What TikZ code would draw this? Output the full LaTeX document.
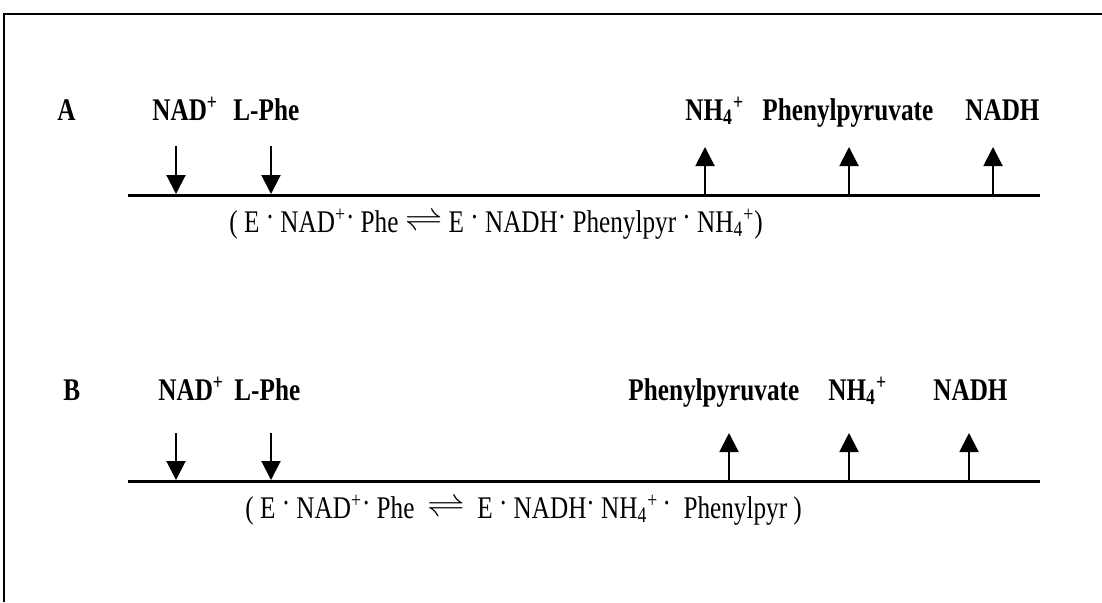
\documentclass[tikz,border=0pt]{standalone}
\usepackage{fontspec}
\setmainfont{Liberation Serif}
\usetikzlibrary{arrows.meta}
\newcommand{\rd}{\raisebox{0.15em}{\textperiodcentered}}
\newcommand{\eqharp}{\raisebox{0.05em}{\scalebox{1.6}[1.1]{$\rightleftharpoons$}}}
\begin{document}
\begin{tikzpicture}[x=0.5pt,y=-0.5pt,
  lab/.style={font=\fontsize{12.6}{15}\selectfont\bfseries, inner sep=0pt, anchor=base west, yscale=1.25},
  eqn/.style={font=\fontsize{12.6}{15}\selectfont, inner sep=0pt, anchor=base west, yscale=1.25},
  arr/.style={line width=1pt, -{Triangle[width=9.5pt,length=9.5pt]}},
  axisline/.style={line width=1.5pt},
  frameline/.style={line width=1pt}]
\useasboundingbox (0,0) rectangle (1102,602);
% frame
\coordinate (tl) at (4,14);
\coordinate (tr) at (1102,14);
\coordinate (bl) at (4,602);
\draw[frameline] (tr) -- (tl) -- (bl);

% ---------- A ----------
\coordinate (A0) at (128,195);
\coordinate (A1) at (1040,195);
\draw[axisline] (A0) -- (A1);
\node[lab] (lA) at (57,120) {A};
\node[lab] (aNAD) at (152,120) {NAD\textsuperscript{+}};
\node[lab] (aPhe) at (233,120) {L-Phe};
\node[lab] (aNH) at (685,120) {NH\textsubscript{4}\textsuperscript{+}};
\node[lab] (aPP) at (762,120) {Phenylpyruvate};
\node[lab] (aNADH) at (965,120) {NADH};
\coordinate (ad1s) at (176,146); \coordinate (ad1e) at (176,194);
\coordinate (ad2s) at (271,146); \coordinate (ad2e) at (271,194);
\coordinate (au1s) at (705,195); \coordinate (au1e) at (705,147);
\coordinate (au2s) at (849,195); \coordinate (au2e) at (849,147);
\coordinate (au3s) at (993,195); \coordinate (au3e) at (993,147);
\draw[arr] (ad1s) -- (ad1e);
\draw[arr] (ad2s) -- (ad2e);
\draw[arr] (au1s) -- (au1e);
\draw[arr] (au2s) -- (au2e);
\draw[arr] (au3s) -- (au3e);
\node[eqn] (eqA) at (229,232) {( E \rd\ NAD\textsuperscript{+}\rd\ Phe \eqharp\ E \rd\ NADH\rd\ Phenylpyr \rd\ NH\textsubscript{4}\textsuperscript{+})};

% ---------- B ----------
\coordinate (B0) at (128,481);
\coordinate (B1) at (1040,481);
\draw[axisline] (B0) -- (B1);
\node[lab] (lB) at (63,400) {B};
\node[lab] (bNAD) at (158,400) {NAD\textsuperscript{+}};
\node[lab] (bPhe) at (234,400) {L-Phe};
\node[lab] (bPP) at (628,400) {Phenylpyruvate};
\node[lab] (bNH) at (828,400) {NH\textsubscript{4}\textsuperscript{+}};
\node[lab] (bNADH) at (933,400) {NADH};
\coordinate (bd1s) at (176,433); \coordinate (bd1e) at (176,480);
\coordinate (bd2s) at (271,433); \coordinate (bd2e) at (271,480);
\coordinate (bu1s) at (729,481); \coordinate (bu1e) at (729,433);
\coordinate (bu2s) at (849,481); \coordinate (bu2e) at (849,433);
\coordinate (bu3s) at (969,481); \coordinate (bu3e) at (969,433);
\draw[arr] (bd1s) -- (bd1e);
\draw[arr] (bd2s) -- (bd2e);
\draw[arr] (bu1s) -- (bu1e);
\draw[arr] (bu2s) -- (bu2e);
\draw[arr] (bu3s) -- (bu3e);
\node[eqn] (eqB) at (245,518) {( E \rd\ NAD\textsuperscript{+}\rd\ Phe \ \eqharp\ \ E \rd\ NADH\rd\ NH\textsubscript{4}\textsuperscript{+}\,\rd\ \ Phenylpyr )};
\end{tikzpicture}
\end{document}
